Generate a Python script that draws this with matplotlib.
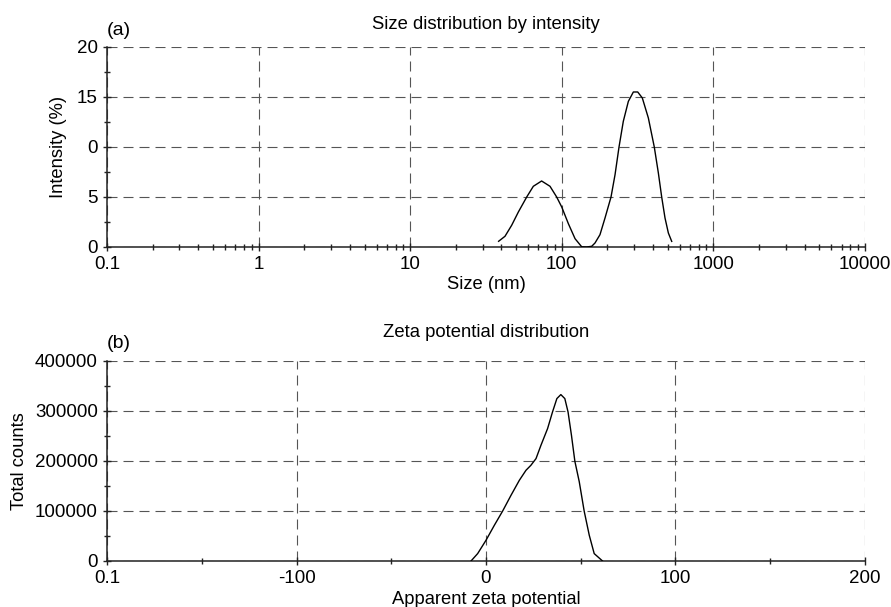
import numpy as np
import matplotlib
matplotlib.use("Agg")
font = {'family': ['Liberation Sans', 'DejaVu Sans'],
        'size': 13.5}
matplotlib.rc('font', **font)
from matplotlib import pyplot as plt
from matplotlib.ticker import FixedLocator, LogLocator, NullFormatter

# (a) size distribution by intensity
size_nm = [38.3, 42.2, 46.7, 51.7, 58.7, 64.9, 73.6, 83.6, 92.5, 99.9, 110.5,
           122.3, 135.3, 146, 157.5, 165.6, 178.6, 192.8, 211.2, 224.5, 238.5,
           254.5, 274.8, 296.5, 316.8, 339.8, 372.4, 407.5, 433.5, 456, 479.6,
           504.6, 531]
intensity = [0.57, 1.07, 2.17, 3.5, 5.0, 6.07, 6.6, 6.07, 5.0, 4.0, 2.33,
             0.83, 0.02, 0.0, 0.07, 0.4, 1.23, 2.9, 5.0, 7.23, 10.0,
             12.56, 14.56, 15.5, 15.5, 14.9, 12.9, 10.0, 7.4, 5.0, 2.9,
             1.4, 0.56]

# (b) zeta potential distribution
zeta = [-7.9, -4.4, 0, 4.4, 8.8, 13.2, 17.6, 21.1, 23.7, 26.4, 29.0, 32.5,
        35.1, 37.4, 39.5, 41.6, 43.3, 45.1, 46.9, 49.2, 51.8, 54.5, 57.1, 61.5]
counts = [0, 14800, 41400, 71400, 100000, 131400, 161400, 181400, 191400,
          204800, 231400, 264800, 298000, 324800, 332800, 324800, 298000,
          251400, 199400, 158800, 100000, 51400, 14800, 0]

a_yticks = [0, 5, 10, 15, 20]
a_yticklabels = ["0", "5", "0", "15", "20"]
a_xticks = [0.1, 1, 10, 100, 1000, 10000]
a_xticklabels = ["0.1", "1", "10", "100", "1000", "10000"]

b_xticks = [-200, -100, 0, 100, 200]
b_xticklabels = ["0.1", "-100", "0", "100", "200"]
b_yticks = [0, 100000, 200000, 300000, 400000]

grid_kw = dict(color='#555555', linewidth=0.8, linestyle=(0, (9, 5.4)))


def style(ax):
    for s in ['top', 'right']:
        ax.spines[s].set_visible(False)
    for s in ['left', 'bottom']:
        ax.spines[s].set_linewidth(1.1)
        ax.spines[s].set_color('#222222')
    ax.tick_params(which='major', direction='inout', length=6, width=1.0,
                   color='#222222', pad=3.5)
    ax.tick_params(which='minor', direction='inout', length=5, width=1.0,
                   color='#222222')
    ax.grid(True, which='major', **grid_kw)
    ax.set_axisbelow(True)


fig = plt.figure(figsize=(8.91, 6.07), dpi=100)

ax1 = fig.add_axes([0.1201, 0.5931, 0.8507, 0.3295])
ax1.plot(size_nm, intensity, color='black', linewidth=1.0, zorder=3)
ax1.set_xscale('log')
ax1.set_xlim(0.1, 10000)
ax1.set_ylim(0, 20)
ax1.set_xticks(a_xticks)
ax1.set_xticklabels(a_xticklabels)
ax1.xaxis.set_minor_locator(LogLocator(base=10, subs=np.arange(2, 10)))
ax1.xaxis.set_minor_formatter(NullFormatter())
ax1.set_yticks(a_yticks)
ax1.set_yticklabels(a_yticklabels)
ax1.yaxis.set_minor_locator(FixedLocator([2.5, 7.5, 12.5, 17.5]))
style(ax1)
ax1.set_xlabel("Size (nm)", fontsize=13.2, labelpad=2)
ax1.set_ylabel("Intensity (%)", fontsize=13.2, labelpad=7)
ax1.set_title("Size distribution by intensity", fontsize=13.3, pad=13)
ax1.text(0.0, 1.062, "(a)", fontsize=14, transform=ax1.transAxes,
         ha='left', va='baseline')

ax2 = fig.add_axes([0.1201, 0.0758, 0.8507, 0.3295])
ax2.plot(zeta, counts, color='black', linewidth=1.0, zorder=3)
ax2.set_xlim(-200, 200)
ax2.set_ylim(0, 400000)
ax2.set_xticks(b_xticks)
ax2.set_xticklabels(b_xticklabels)
ax2.xaxis.set_minor_locator(FixedLocator([-150, -50, 50, 150]))
ax2.set_yticks(b_yticks)
ax2.set_yticklabels([str(v) for v in b_yticks])
ax2.yaxis.set_minor_locator(FixedLocator([50000, 150000, 250000, 350000]))
style(ax2)
ax2.set_xlabel("Apparent zeta potential", fontsize=13.2, labelpad=3)
ax2.set_ylabel("Total counts", fontsize=13.2, labelpad=5)
ax2.set_title("Zeta potential distribution", fontsize=13.3, pad=17)
ax2.text(0.0, 1.065, "(b)", fontsize=14, transform=ax2.transAxes,
         ha='left', va='baseline')

fig.savefig("out.png", dpi=100)
